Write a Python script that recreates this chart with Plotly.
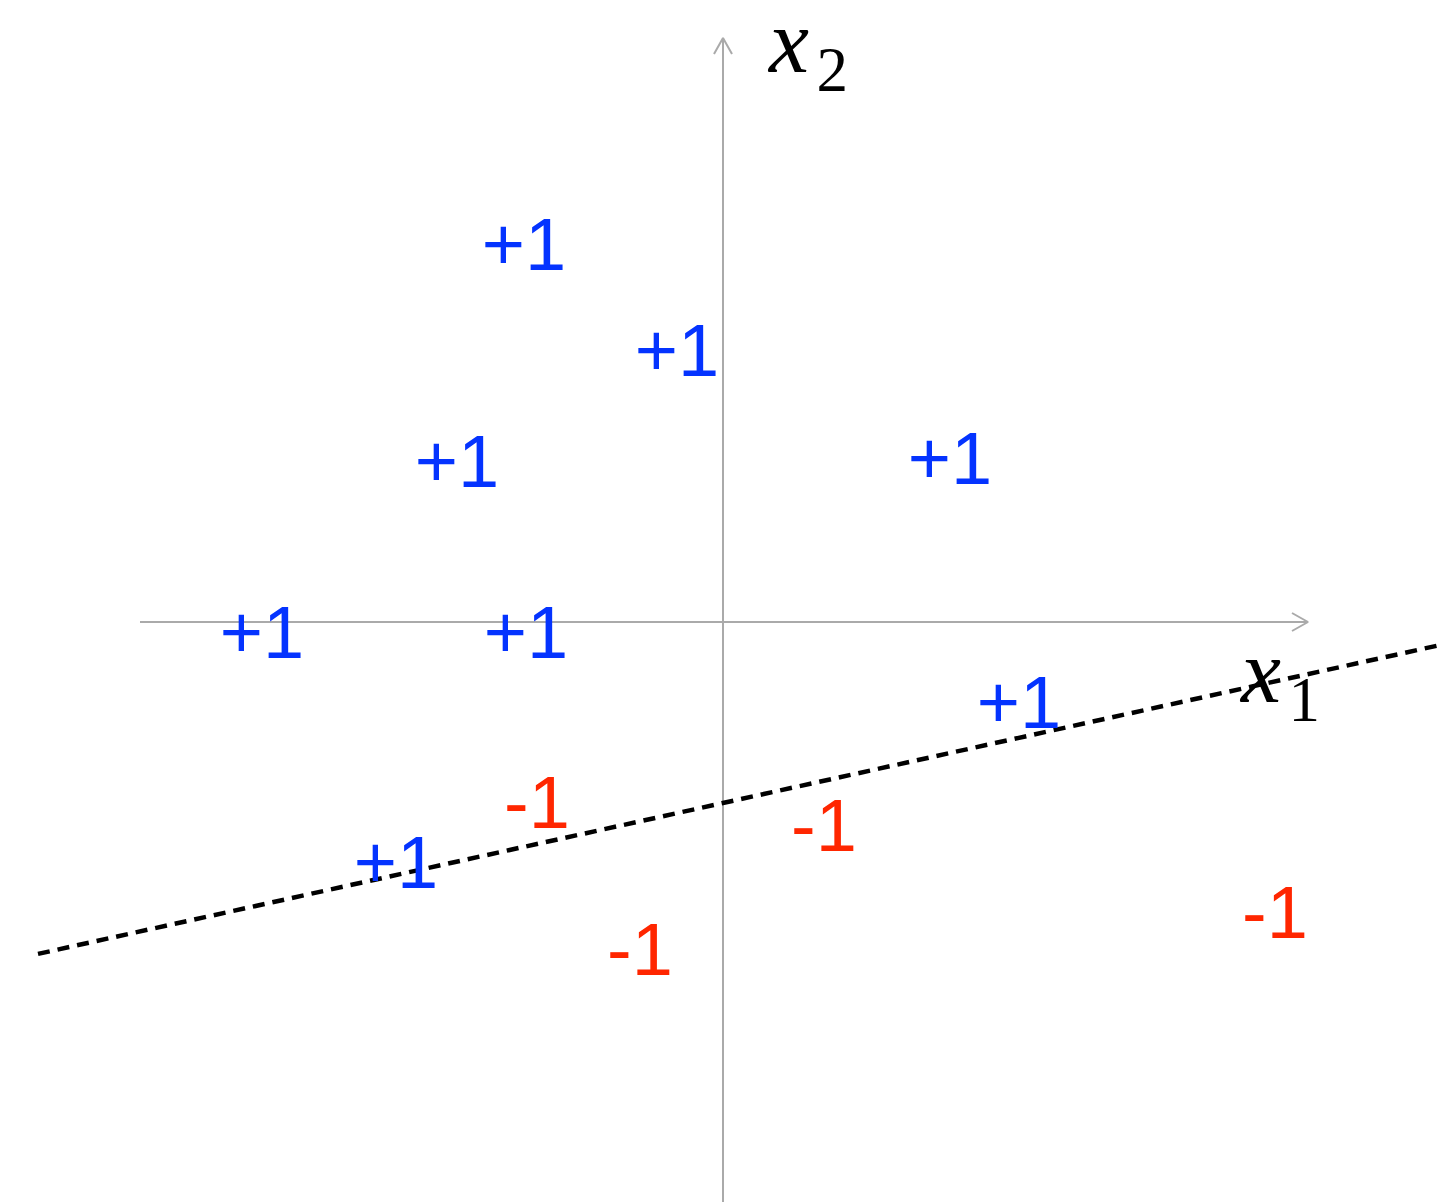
import plotly.graph_objects as go

# Data (coordinates relative to the origin of the drawn axes, y up)
pos_x = [-199, -46, -266, 227, -461, -197, 296, -327]
pos_y = [371, 265, 154, 157, -17, -17, -87, -247]
pos_labels = ["+1"] * len(pos_x)

neg_x = [-186, 101, -83, 552]
neg_y = [-187, -210, -334, -297]
neg_labels = ["-1"] * len(neg_x)

# separating line: y = slope * x + intercept
line_slope = 0.2203
line_intercept = -181.0
line_x = [-685, 735]

# axis extents
x_axis_ext = [-583, 585]
y_axis_ext = [-590, 584]

# page has an 8px body margin -> shift the visible window accordingly
X_MIN, X_MAX = -715, 735
Y_MIN, Y_MAX = -588, 614

AXIS_COLOR = "#aaaaaa"
BLUE = "#0433ff"
RED = "#ff2600"
TEXT_FONT = "Liberation Sans, Arial, Helvetica, sans-serif"
MATH_FONT = "Liberation Serif, DejaVu Serif, serif"

fig = go.Figure()

# axes lines
fig.add_trace(go.Scatter(x=x_axis_ext, y=[0, 0], mode="lines",
                         line=dict(color=AXIS_COLOR, width=2), hoverinfo="skip"))
fig.add_trace(go.Scatter(x=[0, 0], y=y_axis_ext, mode="lines",
                         line=dict(color=AXIS_COLOR, width=2), hoverinfo="skip"))
# arrowheads (open chevrons)
ah_len, ah_half = 16, 9
fig.add_trace(go.Scatter(
    x=[x_axis_ext[1] - ah_len, x_axis_ext[1], x_axis_ext[1] - ah_len],
    y=[ah_half, 0, -ah_half], mode="lines",
    line=dict(color=AXIS_COLOR, width=2), hoverinfo="skip"))
fig.add_trace(go.Scatter(
    x=[-ah_half, 0, ah_half],
    y=[y_axis_ext[1] - ah_len, y_axis_ext[1], y_axis_ext[1] - ah_len], mode="lines",
    line=dict(color=AXIS_COLOR, width=2), hoverinfo="skip"))

# dashed separating line
fig.add_trace(go.Scatter(
    x=line_x, y=[line_slope * v + line_intercept for v in line_x], mode="lines",
    line=dict(color="black", width=4.5, dash="12px,8px"), hoverinfo="skip"))

# labels
fig.add_trace(go.Scatter(x=pos_x, y=pos_y, mode="text", text=pos_labels,
                         textposition="middle center",
                         textfont=dict(family=TEXT_FONT, size=74, color=BLUE),
                         hoverinfo="skip"))
fig.add_trace(go.Scatter(x=neg_x, y=neg_y, mode="text", text=neg_labels,
                         textposition="middle center",
                         textfont=dict(family=TEXT_FONT, size=74, color=RED),
                         hoverinfo="skip"))

# axis titles
fig.add_annotation(x=84, y=574, xref="x", yref="y", showarrow=False,
                   text="<i>x</i>\u200a<sub>2</sub>",
                   font=dict(family=MATH_FONT, size=90, color="black"))
fig.add_annotation(x=556, y=-56, xref="x", yref="y", showarrow=False,
                   text="<i>x</i>\u200a<sub>1</sub>",
                   font=dict(family=MATH_FONT, size=90, color="black"))

fig.update_layout(
    width=1450, height=1202,
    margin=dict(l=0, r=0, t=0, b=0),
    paper_bgcolor="white", plot_bgcolor="white",
    showlegend=False,
    xaxis=dict(range=[X_MIN, X_MAX], visible=False, fixedrange=True),
    yaxis=dict(range=[Y_MIN, Y_MAX], visible=False, fixedrange=True),
)

fig.write_html("out.html")
